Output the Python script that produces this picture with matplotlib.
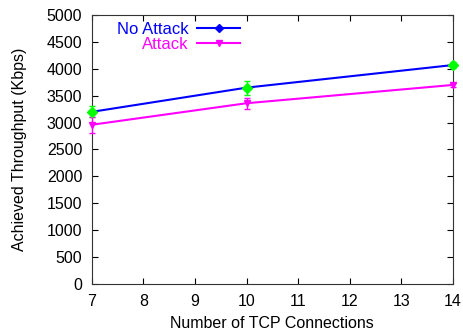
import matplotlib
matplotlib.use("Agg")
import matplotlib.pyplot as plt
from matplotlib.lines import Line2D

plt.rcParams['font.family'] = ['Liberation Sans', 'DejaVu Sans']

connections = [7, 10, 14]
no_attack = [3200, 3650, 4070]
no_attack_err = [100, 130, 50]
attack = [2960, 3360, 3700]
attack_err = [150, 100, 40]

fig = plt.figure(figsize=(4.64, 3.32), dpi=100)
ax = fig.add_axes([0.198, 0.1446, 0.778, 0.8102])

ax.plot(connections, no_attack, color='#0000ff', lw=1.5, zorder=2)
eb1 = ax.errorbar(connections, no_attack, yerr=no_attack_err, fmt='D', color='#00ff00',
                  ms=5, capsize=2, elinewidth=1, zorder=3)
ax.plot(connections, attack, color='#ff00ff', lw=1.5, zorder=2)
eb2 = ax.errorbar(connections, attack, yerr=attack_err, fmt='v', color='#ff00ff',
                  ms=5, capsize=2, elinewidth=1, zorder=3)
for eb in (eb1, eb2):
    for a in eb.get_children():
        a.set_clip_on(False)

ax.set_xlim(7, 14)
ax.set_ylim(0, 5000)
ax.set_xticks(range(7, 15))
ax.set_yticks(range(0, 5001, 500))
ax.tick_params(direction='in', top=True, right=True, labelsize=11.5, length=4, pad=7)
for s in ax.spines.values():
    s.set_color('#333333')
ax.set_xlabel('Number of TCP Connections', fontsize=11.5, labelpad=5)
ax.set_ylabel('Achieved Throughput (Kbps)', fontsize=11.5, labelpad=14)

handles = [Line2D([], [], color='#0000ff', marker='D', ms=4, lw=1.5),
           Line2D([], [], color='#ff00ff', marker='v', ms=4, lw=1.5)]
leg = ax.legend(handles, ['No Attack', 'Attack'], loc='upper left',
                bbox_to_anchor=(0.07, 0.975), frameon=False, markerfirst=False,
                labelcolor='linecolor', fontsize=12, handlelength=2.6,
                handletextpad=0.5, labelspacing=0.0, borderpad=0, borderaxespad=0)

fig.savefig('out.png', dpi=100)
